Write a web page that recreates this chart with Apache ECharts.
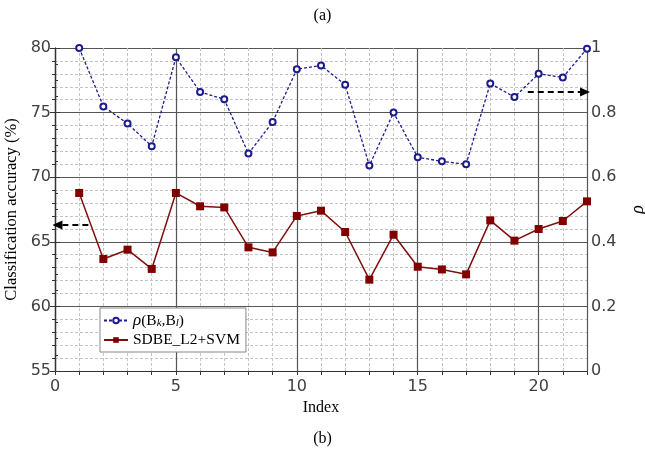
<!DOCTYPE html>
<html>
<head>
<meta charset="utf-8">
<script src="https://cdn.jsdelivr.net/npm/echarts@6/dist/echarts.min.js"></script>
<style>
  html, body { margin: 0; padding: 0; background: #fff; }
  #chart { width: 645px; height: 451px; }
</style>
</head>
<body>
<div id="chart"></div>
<script>
// data
const indexValues = [1, 2, 3, 4, 5, 6, 7, 8, 9, 10, 11, 12, 13, 14, 15, 16, 17, 18, 19, 20, 21, 22]
const rhoValues = [1.0, 0.819, 0.766, 0.696, 0.971, 0.864, 0.841, 0.673, 0.771, 0.934, 0.946,
  0.886, 0.636, 0.80, 0.662, 0.649, 0.640, 0.890, 0.848, 0.920, 0.909, 0.998]
const accValues = [68.78, 63.67, 64.39, 62.90, 68.78, 67.75, 67.66, 64.57, 64.18, 67.00, 67.41,
  65.76, 62.07, 65.55, 63.07, 62.86, 62.48, 66.66, 65.09, 65.99, 66.61, 68.13]
const accTicks = [55, 60, 65, 70, 75, 80]
const rhoTicks = [0, 0.2, 0.4, 0.6, 0.8, 1]
const indexTicks = [0, 5, 10, 15, 20]

const serif = '"Liberation Serif", "DejaVu Serif", serif'
const sans = '"DejaVu Sans", sans-serif'
const labelColor = '#404040'
const majorLine = { color: '#555', width: 1.2 }
const minorLine = { color: '#c4c4c4', width: 1, type: [3, 2] }

const chart = echarts.init(document.getElementById('chart'))

const option = {
  backgroundColor: '#fff',
  animation: false,
  title: [
    { text: '(a)', left: 'center', top: 3, textStyle: { fontFamily: serif, fontSize: 16, fontWeight: 'normal', color: '#000' } },
    { text: '(b)', left: 'center', top: 426, textStyle: { fontFamily: serif, fontSize: 16, fontWeight: 'normal', color: '#000' } }
  ],
  grid: { left: 55, right: 58, top: 48, bottom: 80, containLabel: false, outerBoundsMode: 'none' },
  legend: {
    orient: 'vertical',
    left: 100,
    top: 308,
    itemGap: 3,
    itemWidth: 24,
    itemHeight: 7,
    padding: [4, 6, 4, 3],
    backgroundColor: '#fff',
    borderColor: '#888',
    borderWidth: 1,
    borderRadius: 0,
    textStyle: {
      fontFamily: serif, fontSize: 15.5, color: '#000',
      rich: {
        i: { fontFamily: serif, fontSize: 17, fontStyle: 'italic', color: '#000' },
        n: { fontFamily: serif, fontSize: 15.5, color: '#000' },
        s: { fontFamily: serif, fontSize: 11, fontStyle: 'italic', color: '#000', verticalAlign: 'bottom', padding: [6, 0, 0, 0] }
      }
    },
    formatter: function (name) {
      if (name === 'rho') return '{i|ρ}{n|(B}{s|k}{n|,B}{s|l}{n|)}'
      return name
    },
    data: ['rho', 'SDBE_L2+SVM']
  },
  xAxis: [
    {
      // minor dashed grid, ticks at every index
      type: 'value', min: 0, max: 22, interval: 1,
      axisLine: { show: true, lineStyle: { color: '#333', width: 1.2 } },
      axisTick: { show: true, length: 4, lineStyle: { color: '#333' } },
      axisLabel: { show: false },
      splitLine: { show: true, lineStyle: minorLine }
    },
    {
      // major solid grid with labels
      type: 'value', min: 0, max: 22, interval: 5, position: 'bottom',
      axisLine: { show: false },
      axisTick: { show: false },
      axisLabel: {
        show: true, margin: 8, showMaxLabel: false,
        fontFamily: sans, fontSize: 16, color: labelColor,
        formatter: v => (indexTicks.includes(v) ? String(v) : '')
      },
      splitLine: { show: true, lineStyle: majorLine },
      name: 'Index', nameLocation: 'middle', nameGap: 29,
      nameTextStyle: { fontFamily: serif, fontSize: 16, color: '#000' }
    }
  ],
  yAxis: [
    {
      type: 'value', min: 55, max: 80, interval: 5, position: 'left',
      axisLine: { show: true, lineStyle: { color: '#333', width: 1.2 } },
      axisTick: { show: true, length: 5, lineStyle: { color: '#333' } },
      minorTick: { show: true, splitNumber: 5, length: 3, lineStyle: { color: '#333' } },
      axisLabel: {
        fontFamily: sans, fontSize: 16, color: labelColor, margin: 4,
        formatter: v => (accTicks.includes(v) ? String(v) : '')
      },
      splitLine: { show: true, lineStyle: majorLine },
      minorSplitLine: { show: true, lineStyle: minorLine },
      name: 'Classification accuracy (%)', nameLocation: 'middle', nameGap: 33,
      nameTextStyle: { fontFamily: serif, fontSize: 16.5, color: '#000' }
    },
    {
      type: 'value', min: 0, max: 1, interval: 0.2, position: 'right',
      axisLine: { show: true, lineStyle: { color: '#333', width: 1.2 } },
      axisTick: { show: true, length: 5, lineStyle: { color: '#333' } },
      minorTick: { show: true, splitNumber: 4, length: 3, lineStyle: { color: '#333' } },
      axisLabel: {
        fontFamily: sans, fontSize: 16, color: labelColor, margin: 4,
        formatter: v => {
          const t = rhoTicks.find(r => Math.abs(r - v) < 1e-9)
          return t === undefined ? '' : String(t)
        }
      },
      splitLine: { show: false },
      name: 'ρ', nameLocation: 'middle', nameGap: 42, nameRotate: 90,
      nameTextStyle: { fontFamily: serif, fontSize: 18, fontStyle: 'italic', color: '#000' }
    }
  ],
  series: [
    {
      name: 'rho',
      type: 'line',
      xAxisIndex: 0,
      yAxisIndex: 1,
      data: indexValues.map((x, i) => [x, rhoValues[i]]),
      clip: false,
      symbol: 'emptyCircle',
      symbolSize: 6,
      lineStyle: { color: '#1c1c8e', width: 1.3, type: [3, 2] },
      itemStyle: { color: '#1c1c8e', borderWidth: 1.4 },
      z: 3,
      markLine: {
        silent: true,
        symbol: ['none', 'triangle'],
        symbolSize: [9, 10],
        label: { show: false },
        lineStyle: { color: '#000', width: 1.8, type: [6, 4] },
        data: [[{ coord: [19.55, 0.864] }, { coord: [21.92, 0.864] }]]
      }
    },
    {
      name: 'SDBE_L2+SVM',
      type: 'line',
      xAxisIndex: 0,
      yAxisIndex: 0,
      data: indexValues.map((x, i) => [x, accValues[i]]),
      clip: false,
      symbol: 'rect',
      symbolSize: 8,
      lineStyle: { color: '#7f0f0f', width: 1.5 },
      itemStyle: { color: '#800000' },
      z: 4,
      markLine: {
        silent: true,
        symbol: ['none', 'triangle'],
        symbolSize: [9, 10],
        label: { show: false },
        lineStyle: { color: '#000', width: 1.8, type: [6, 4] },
        data: [[{ coord: [1.38, 66.3] }, { coord: [0.1, 66.3] }]]
      }
    }
  ]
}

chart.setOption(option)
</script>
</body>
</html>
